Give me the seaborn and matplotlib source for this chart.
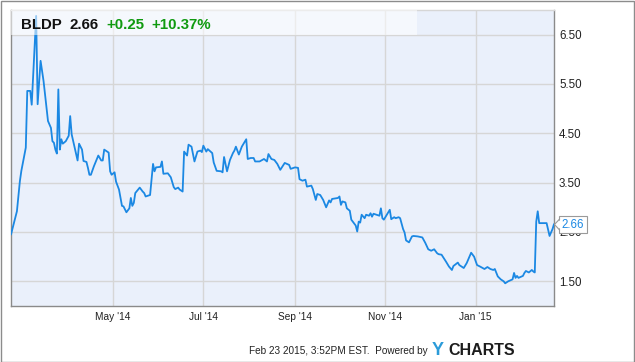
import matplotlib
matplotlib.use("Agg")
import matplotlib.pyplot as plt
import matplotlib.dates as mdates
import matplotlib.patches as mpatches
from matplotlib.lines import Line2D
import seaborn as sns
import pandas as pd

# ---------------- data ----------------
dates = [
    "2014-02-21", "2014-02-25", "2014-02-27", "2014-02-28", "2014-03-03", "2014-03-04", "2014-03-06", "2014-03-07",
    "2014-03-10", "2014-03-11", "2014-03-13", "2014-03-15", "2014-03-16", "2014-03-17", "2014-03-18", "2014-03-20",
    "2014-03-21", "2014-03-22", "2014-03-23", "2014-03-24", "2014-03-25", "2014-03-26", "2014-03-27", "2014-03-28",
    "2014-03-30", "2014-04-01", "2014-04-02", "2014-04-03", "2014-04-05", "2014-04-07", "2014-04-08", "2014-04-10",
    "2014-04-11", "2014-04-13", "2014-04-14", "2014-04-15", "2014-04-16", "2014-04-18", "2014-04-21", "2014-04-23",
    "2014-04-24", "2014-04-25", "2014-04-28", "2014-04-29", "2014-04-30", "2014-05-02", "2014-05-03", "2014-05-05",
    "2014-05-07", "2014-05-08", "2014-05-10", "2014-05-12", "2014-05-13", "2014-05-14", "2014-05-15", "2014-05-16",
    "2014-05-19", "2014-05-21", "2014-05-22", "2014-05-23", "2014-05-26", "2014-05-28", "2014-05-29", "2014-05-30",
    "2014-06-02", "2014-06-03", "2014-06-04", "2014-06-07", "2014-06-09", "2014-06-11", "2014-06-12", "2014-06-14",
    "2014-06-15", "2014-06-17", "2014-06-18", "2014-06-20", "2014-06-21", "2014-06-22", "2014-06-23", "2014-06-25",
    "2014-06-27", "2014-06-29", "2014-06-30", "2014-07-01", "2014-07-03", "2014-07-04", "2014-07-07", "2014-07-08",
    "2014-07-10", "2014-07-13", "2014-07-14", "2014-07-15", "2014-07-17", "2014-07-19", "2014-07-21", "2014-07-22",
    "2014-07-23", "2014-07-25", "2014-07-27", "2014-07-30", "2014-07-31", "2014-08-02", "2014-08-04", "2014-08-05",
    "2014-08-08", "2014-08-11", "2014-08-13", "2014-08-14", "2014-08-16", "2014-08-18", "2014-08-20", "2014-08-22",
    "2014-08-25", "2014-08-28", "2014-08-29", "2014-09-01", "2014-09-03", "2014-09-04", "2014-09-06", "2014-09-08",
    "2014-09-09", "2014-09-12", "2014-09-13", "2014-09-15", "2014-09-16", "2014-09-18", "2014-09-20", "2014-09-22",
    "2014-09-24", "2014-09-25", "2014-09-26", "2014-09-30", "2014-10-01", "2014-10-02", "2014-10-03", "2014-10-05",
    "2014-10-06", "2014-10-08", "2014-10-09", "2014-10-12", "2014-10-13", "2014-10-14", "2014-10-15", "2014-10-16",
    "2014-10-18", "2014-10-19", "2014-10-21", "2014-10-22", "2014-10-23", "2014-10-24", "2014-10-26", "2014-10-28",
    "2014-10-29", "2014-10-30", "2014-10-31", "2014-11-02", "2014-11-04", "2014-11-05", "2014-11-07", "2014-11-08",
    "2014-11-10", "2014-11-11", "2014-11-13", "2014-11-14", "2014-11-15", "2014-11-16", "2014-11-17", "2014-11-19",
    "2014-11-20", "2014-11-23", "2014-11-26", "2014-11-28", "2014-11-30", "2014-12-02", "2014-12-04", "2014-12-06",
    "2014-12-07", "2014-12-09", "2014-12-12", "2014-12-14", "2014-12-16", "2014-12-17", "2014-12-20", "2014-12-21",
    "2014-12-24", "2014-12-26", "2014-12-29", "2014-12-31", "2015-01-02", "2015-01-04", "2015-01-07", "2015-01-09",
    "2015-01-11", "2015-01-13", "2015-01-14", "2015-01-16", "2015-01-18", "2015-01-20", "2015-01-21", "2015-01-23",
    "2015-01-26", "2015-01-27", "2015-01-28", "2015-01-29", "2015-01-30", "2015-02-02", "2015-02-03", "2015-02-04",
    "2015-02-06", "2015-02-08", "2015-02-09", "2015-02-10", "2015-02-11", "2015-02-12", "2015-02-13", "2015-02-15",
    "2015-02-18", "2015-02-20", "2015-02-22", "2015-02-23",
]
prices = [
    2.45, 2.92, 3.53, 3.74, 4.21, 5.36, 5.36, 5.08,
    6.88, 5.09, 5.97, 5.56, 5.29, 5.02, 4.75, 4.61,
    4.34, 4.31, 4.17, 4.09, 5.39, 4.17, 4.38, 4.29,
    4.34, 4.45, 4.85, 4.48, 4.21, 3.95, 4.29, 4.17,
    3.94, 3.92, 3.80, 3.66, 3.66, 3.83, 4.05, 3.95,
    3.95, 4.17, 4.11, 3.73, 3.66, 3.71, 3.52, 3.36,
    3.03, 3.02, 2.90, 2.98, 3.19, 3.03, 3.09, 3.29,
    3.40, 3.32, 3.29, 3.22, 3.25, 3.88, 3.73, 3.81,
    3.82, 3.93, 3.68, 3.69, 3.61, 3.41, 3.37, 3.40,
    3.36, 3.32, 4.13, 4.05, 4.27, 4.25, 4.23, 3.93,
    4.13, 4.15, 4.12, 4.25, 4.13, 4.18, 4.10, 3.91,
    3.74, 3.73, 3.71, 4.02, 3.73, 3.96, 4.10, 4.15,
    4.23, 4.07, 4.23, 4.38, 3.98, 4.00, 4.00, 3.93,
    3.93, 3.98, 3.93, 4.08, 3.98, 3.96, 3.88, 3.76,
    3.90, 3.86, 3.78, 3.81, 3.80, 3.57, 3.54, 3.56,
    3.42, 3.44, 3.37, 3.15, 3.27, 3.25, 3.15, 3.00,
    3.14, 3.10, 3.17, 3.19, 3.22, 3.05, 3.12, 3.10,
    2.98, 2.93, 2.75, 2.63, 2.51, 2.71, 2.69, 2.85,
    2.78, 2.85, 2.83, 2.88, 2.81, 2.87, 2.85, 2.83,
    2.98, 2.78, 2.75, 2.85, 2.95, 2.76, 2.80, 2.78,
    2.80, 2.78, 2.56, 2.49, 2.33, 2.31, 2.29, 2.41,
    2.42, 2.41, 2.39, 2.28, 2.15, 2.12, 2.15, 2.07,
    2.05, 2.04, 1.90, 1.80, 1.73, 1.81, 1.88, 1.83,
    1.77, 1.87, 2.08, 2.00, 1.83, 1.80, 1.75, 1.79,
    1.75, 1.73, 1.75, 1.60, 1.54, 1.50, 1.46, 1.50,
    1.54, 1.67, 1.57, 1.61, 1.57, 1.61, 1.67, 1.71,
    1.68, 1.73, 1.70, 1.68, 2.71, 2.92, 2.68, 2.68,
    2.68, 2.42, 2.56, 2.66,
]
ticker = "BLDP"
last_price = "2.66"
change_abs = "+0.25"
change_pct = "+10.37%"
y_ticks = [1.50, 2.50, 3.50, 4.50, 5.50, 6.50]
tick_months = [1, 5, 7, 9, 11]
x_range = ["2014-02-21", "2015-02-23"]
y_range = [1.0, 7.0]
footer = "Feb 23 2015, 3:52PM EST.  Powered by"

# ---------------- style ----------------
W, H = 635, 362
sns.set_style("white")
plt.rcParams["font.family"] = ["Liberation Sans", "DejaVu Sans"]
LINE_BLUE = "#1b88e3"

def fx(px):
    return px / W

def fy(py):
    return 1 - py / H

fig = plt.figure(figsize=(W / 100, H / 100), dpi=100)
fig.patch.set_facecolor("white")
ax = fig.add_axes([fx(11), fy(306), (554 - 11) / W, (306 - 10) / H])

df = pd.DataFrame({"date": pd.to_datetime(dates), "price": prices})
sns.lineplot(data=df, x="date", y="price", ax=ax, estimator=None,
             color=LINE_BLUE, linewidth=1.3, zorder=3)

ax.set_xlim(pd.Timestamp(x_range[0]), pd.Timestamp(x_range[1]))
ax.set_ylim(*y_range)
ax.set_facecolor("#eaf0fb")
ax.set_xlabel("")
ax.set_ylabel("")

ax.xaxis.set_major_locator(mdates.MonthLocator(bymonth=tick_months))
ax.xaxis.set_major_formatter(mdates.DateFormatter("%b '%y"))
ax.set_yticks(y_ticks)
ax.set_yticklabels([f"{v:.2f}" for v in y_ticks])
ax.yaxis.tick_right()
ax.grid(True, color="#d6d6d6", linewidth=1.0, zorder=1)
ax.set_axisbelow(True)
ax.tick_params(axis="x", length=0, pad=4, labelsize=7.3, labelcolor="#222222")
ax.tick_params(axis="y", length=0, pad=3.6, labelsize=8.3, labelcolor="#222222",
               left=False, right=False, labelleft=False, labelright=True)

for side in ["left", "bottom", "right"]:
    ax.spines[side].set_color("#8a8a8a")
    ax.spines[side].set_linewidth(1.0)
ax.spines["top"].set_color("#d6d6d6")
ax.spines["top"].set_linewidth(1.0)

# translucent header band
ax.add_patch(mpatches.Rectangle((0, 1 - 25 / 296), (417 - 11) / 543, 25 / 296,
                                transform=ax.transAxes, facecolor="white",
                                alpha=0.55, edgecolor="none", zorder=4))

# header text
hdr_y = fy(29)
fig.text(fx(21), hdr_y, ticker, fontsize=10.8, fontweight="bold", color="#111111", va="baseline", zorder=6)
fig.text(fx(70), hdr_y, last_price, fontsize=10.8, fontweight="bold", color="#111111", va="baseline", zorder=6)
fig.text(fx(106), hdr_y, change_abs, fontsize=10.8, fontweight="bold", color="#109a10", va="baseline", zorder=6)
fig.text(fx(151), hdr_y, change_pct, fontsize=10.8, fontweight="bold", color="#109a10", va="baseline", zorder=6)

# last-price flag
fig.text(fx(573), fy(224.5), last_price, fontsize=8.3, color=LINE_BLUE, ha="center", va="center",
         zorder=6, bbox=dict(boxstyle="square,pad=0.22", fc="white", ec="#9a9a9a", lw=0.8))
fig.patches.append(mpatches.Polygon([(fx(561), fy(219.5)), (fx(554.5), fy(224.5)), (fx(561), fy(229.5))],
                                    closed=True, transform=fig.transFigure, facecolor="white",
                                    edgecolor="none", zorder=7))
fig.lines.append(Line2D([fx(559.6), fx(554.5), fx(559.6)], [fy(219), fy(224.5), fy(230)],
                        transform=fig.transFigure, color="#9a9a9a", lw=0.8, zorder=8))

# footer
fig.text(fx(428), fy(354), footer, fontsize=7.2, color="#222222", ha="right", va="baseline")
fig.text(fx(432), fy(355), "Y", fontsize=13, fontweight="bold", color="#2b9bd9", va="baseline")
fig.text(fx(448), fy(355), "CHARTS", fontsize=11.5, fontweight="bold", color="#1c1c1c", va="baseline")

# outer frame
fig.patches.append(mpatches.Rectangle((0.5 / W, 0.5 / H), 1 - 1.5 / W, 1 - 1.5 / H, transform=fig.transFigure,
                                      fill=False, edgecolor="#8c8c8c", lw=1.0, zorder=10))

fig.savefig("out.png", dpi=100, facecolor="white")
